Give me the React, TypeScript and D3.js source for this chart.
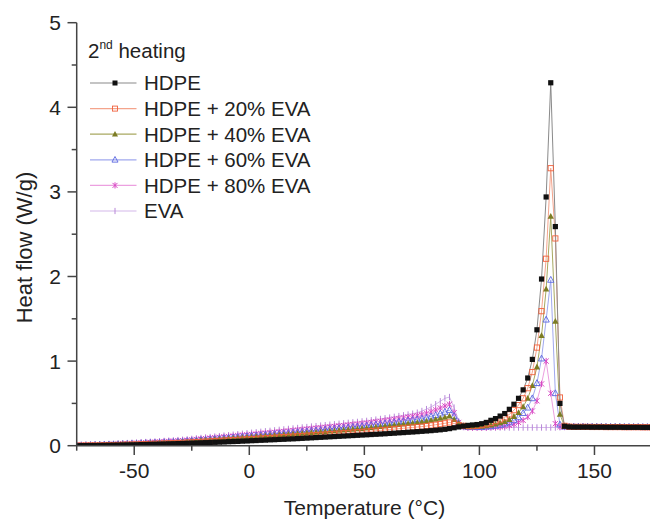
import React from "react";
import * as d3 from "d3";

// Temperature grid (°C) shared by every DSC trace
const TEMPS = [
  -75, -73, -71, -69, -67, -65, -63, -61, -59, -57,
  -55, -53, -51, -49, -47, -45, -43, -41, -39, -37,
  -35, -33, -31, -29, -27, -25, -23, -21, -19, -17,
  -15, -13, -11, -9, -7, -5, -3, -1, 1, 3,
  5, 7, 9, 11, 13, 15, 17, 19, 21, 23,
  25, 27, 29, 31, 33, 35, 37, 39, 41, 43,
  45, 47, 49, 51, 53, 55, 57, 59, 61, 63,
  65, 67, 69, 71, 73, 75, 77, 79, 81, 83,
  85, 87, 89, 91, 93, 95, 97, 99, 101, 103,
  105, 107, 109, 111, 113, 115, 117, 119, 121, 123,
  125, 127, 129, 131, 133, 135, 137, 139, 141, 143,
  145, 147, 149, 151, 153, 155, 157, 159, 161, 163,
  165, 167, 169, 171, 173, 175,
];

// Heat flow (W/g), 2nd heating
const HDPE = [
  0.000, 0.001, 0.001, 0.002, 0.002, 0.003, 0.004, 0.005, 0.006, 0.007,
  0.008, 0.009, 0.010, 0.011, 0.013, 0.014, 0.016, 0.017, 0.019, 0.020,
  0.022, 0.023, 0.025, 0.026, 0.028, 0.030, 0.032, 0.034, 0.036, 0.038,
  0.040, 0.042, 0.044, 0.047, 0.049, 0.051, 0.054, 0.056, 0.059, 0.061,
  0.064, 0.066, 0.069, 0.071, 0.074, 0.076, 0.079, 0.081, 0.084, 0.087,
  0.090, 0.093, 0.096, 0.099, 0.102, 0.105, 0.108, 0.111, 0.114, 0.117,
  0.120, 0.123, 0.126, 0.129, 0.132, 0.135, 0.138, 0.141, 0.145, 0.148,
  0.152, 0.155, 0.159, 0.162, 0.166, 0.170, 0.174, 0.178, 0.183, 0.188,
  0.194, 0.202, 0.212, 0.222, 0.232, 0.240, 0.245, 0.250, 0.260, 0.275,
  0.300, 0.320, 0.350, 0.380, 0.430, 0.490, 0.560, 0.660, 0.800, 1.020,
  1.370, 1.970, 2.940, 4.290, 2.590, 0.500, 0.230, 0.222, 0.220, 0.220,
  0.220, 0.220, 0.219, 0.219, 0.219, 0.218, 0.218, 0.218, 0.218, 0.217,
  0.217, 0.217, 0.217, 0.216, 0.216, 0.216,
];

const EVA20 = [
  0.000, 0.001, 0.002, 0.003, 0.003, 0.004, 0.005, 0.007, 0.008, 0.009,
  0.011, 0.012, 0.014, 0.015, 0.017, 0.019, 0.021, 0.023, 0.025, 0.026,
  0.028, 0.030, 0.032, 0.034, 0.037, 0.039, 0.042, 0.045, 0.048, 0.051,
  0.054, 0.057, 0.060, 0.063, 0.066, 0.069, 0.072, 0.075, 0.078, 0.081,
  0.085, 0.088, 0.091, 0.094, 0.098, 0.101, 0.104, 0.108, 0.111, 0.115,
  0.118, 0.122, 0.125, 0.129, 0.132, 0.136, 0.140, 0.143, 0.147, 0.151,
  0.155, 0.159, 0.163, 0.167, 0.172, 0.177, 0.181, 0.186, 0.191, 0.196,
  0.201, 0.206, 0.211, 0.216, 0.221, 0.226, 0.232, 0.240, 0.248, 0.256,
  0.265, 0.275, 0.262, 0.245, 0.235, 0.230, 0.230, 0.235, 0.245, 0.255,
  0.270, 0.290, 0.310, 0.335, 0.370, 0.420, 0.480, 0.560, 0.680, 0.870,
  1.160, 1.590, 2.210, 3.280, 2.450, 0.570, 0.235, 0.225, 0.222, 0.222,
  0.222, 0.222, 0.221, 0.221, 0.221, 0.220, 0.220, 0.220, 0.220, 0.219,
  0.219, 0.219, 0.219, 0.218, 0.218, 0.218,
];

const EVA40 = [
  0.000, 0.001, 0.002, 0.003, 0.005, 0.006, 0.007, 0.009, 0.010, 0.012,
  0.014, 0.016, 0.018, 0.020, 0.022, 0.024, 0.026, 0.028, 0.030, 0.032,
  0.034, 0.037, 0.040, 0.043, 0.046, 0.050, 0.054, 0.058, 0.062, 0.066,
  0.070, 0.074, 0.078, 0.082, 0.086, 0.090, 0.094, 0.098, 0.102, 0.106,
  0.110, 0.114, 0.118, 0.122, 0.126, 0.130, 0.134, 0.138, 0.142, 0.146,
  0.150, 0.154, 0.158, 0.163, 0.167, 0.172, 0.176, 0.180, 0.185, 0.189,
  0.194, 0.198, 0.203, 0.208, 0.213, 0.219, 0.225, 0.231, 0.237, 0.243,
  0.249, 0.255, 0.261, 0.267, 0.273, 0.280, 0.289, 0.300, 0.311, 0.322,
  0.335, 0.350, 0.310, 0.262, 0.235, 0.225, 0.225, 0.225, 0.230, 0.235,
  0.245, 0.255, 0.270, 0.285, 0.310, 0.345, 0.390, 0.460, 0.560, 0.710,
  0.930, 1.300, 1.850, 2.710, 1.470, 0.370, 0.230, 0.225, 0.223, 0.223,
  0.223, 0.223, 0.222, 0.222, 0.222, 0.221, 0.221, 0.221, 0.221, 0.220,
  0.220, 0.220, 0.220, 0.219, 0.219, 0.219,
];

const EVA60 = [
  0.004, 0.005, 0.006, 0.007, 0.009, 0.010, 0.012, 0.013, 0.015, 0.017,
  0.019, 0.021, 0.023, 0.025, 0.028, 0.030, 0.032, 0.035, 0.037, 0.040,
  0.042, 0.045, 0.048, 0.051, 0.055, 0.059, 0.063, 0.068, 0.072, 0.076,
  0.081, 0.085, 0.090, 0.094, 0.098, 0.103, 0.107, 0.112, 0.117, 0.121,
  0.125, 0.130, 0.134, 0.138, 0.143, 0.147, 0.152, 0.156, 0.161, 0.165,
  0.170, 0.175, 0.180, 0.185, 0.190, 0.196, 0.201, 0.206, 0.211, 0.217,
  0.222, 0.227, 0.232, 0.238, 0.244, 0.250, 0.256, 0.263, 0.269, 0.276,
  0.283, 0.290, 0.297, 0.304, 0.311, 0.320, 0.332, 0.346, 0.362, 0.380,
  0.400, 0.420, 0.350, 0.270, 0.230, 0.220, 0.220, 0.220, 0.220, 0.225,
  0.230, 0.235, 0.245, 0.260, 0.275, 0.300, 0.335, 0.385, 0.450, 0.560,
  0.740, 1.030, 1.490, 1.960, 0.620, 0.250, 0.225, 0.224, 0.224, 0.224,
  0.224, 0.224, 0.223, 0.223, 0.223, 0.222, 0.222, 0.222, 0.222, 0.221,
  0.221, 0.221, 0.221, 0.220, 0.220, 0.220,
];

const EVA80 = [
  0.005, 0.006, 0.007, 0.009, 0.010, 0.012, 0.014, 0.016, 0.018, 0.020,
  0.022, 0.024, 0.027, 0.030, 0.033, 0.036, 0.039, 0.042, 0.045, 0.048,
  0.051, 0.054, 0.057, 0.060, 0.064, 0.069, 0.074, 0.079, 0.084, 0.089,
  0.094, 0.099, 0.104, 0.109, 0.114, 0.119, 0.124, 0.128, 0.133, 0.138,
  0.143, 0.148, 0.153, 0.158, 0.163, 0.168, 0.174, 0.179, 0.184, 0.190,
  0.195, 0.200, 0.206, 0.211, 0.217, 0.222, 0.227, 0.233, 0.238, 0.244,
  0.250, 0.256, 0.262, 0.268, 0.275, 0.282, 0.289, 0.297, 0.305, 0.313,
  0.321, 0.329, 0.338, 0.347, 0.356, 0.368, 0.384, 0.402, 0.423, 0.446,
  0.470, 0.490, 0.390, 0.275, 0.225, 0.215, 0.215, 0.215, 0.215, 0.215,
  0.220, 0.220, 0.225, 0.230, 0.240, 0.255, 0.275, 0.300, 0.340, 0.410,
  0.530, 0.730, 1.000, 0.620, 0.260, 0.225, 0.222, 0.224, 0.225, 0.225,
  0.225, 0.225, 0.224, 0.224, 0.224, 0.223, 0.223, 0.223, 0.223, 0.222,
  0.222, 0.222, 0.222, 0.221, 0.221, 0.221,
];

const EVA = [
  0.008, 0.009, 0.010, 0.012, 0.014, 0.016, 0.018, 0.021, 0.023, 0.025,
  0.028, 0.031, 0.034, 0.037, 0.040, 0.043, 0.046, 0.049, 0.052, 0.056,
  0.059, 0.062, 0.066, 0.070, 0.075, 0.080, 0.086, 0.091, 0.097, 0.102,
  0.108, 0.113, 0.119, 0.124, 0.130, 0.136, 0.141, 0.147, 0.153, 0.158,
  0.164, 0.170, 0.175, 0.181, 0.187, 0.192, 0.198, 0.203, 0.209, 0.215,
  0.220, 0.226, 0.231, 0.237, 0.242, 0.248, 0.253, 0.259, 0.264, 0.270,
  0.276, 0.281, 0.287, 0.293, 0.300, 0.308, 0.316, 0.324, 0.332, 0.341,
  0.350, 0.359, 0.368, 0.378, 0.390, 0.410, 0.432, 0.458, 0.490, 0.525,
  0.560, 0.575, 0.450, 0.290, 0.220, 0.215, 0.215, 0.215, 0.215, 0.215,
  0.215, 0.215, 0.215, 0.215, 0.215, 0.215, 0.215, 0.215, 0.215, 0.215,
  0.215, 0.215, 0.215, 0.215, 0.215, 0.218, 0.222, 0.224, 0.225, 0.225,
  0.225, 0.225, 0.224, 0.224, 0.224, 0.223, 0.223, 0.223, 0.223, 0.222,
  0.222, 0.222, 0.222, 0.221, 0.221, 0.221,
];

const SERIES_NAMES = [
  "HDPE",
  "HDPE + 20% EVA",
  "HDPE + 40% EVA",
  "HDPE + 60% EVA",
  "HDPE + 80% EVA",
  "EVA",
];
const SERIES_VALUES = [HDPE, EVA20, EVA40, EVA60, EVA80, EVA];

const X_TICKS = [-50, 0, 50, 100, 150];
const X_MINOR = [-75, -25, 25, 75, 125];
const Y_TICKS = [0, 1, 2, 3, 4, 5];
const Y_MINOR = [0.5, 1.5, 2.5, 3.5, 4.5];

type MarkerKind = "square" | "openSquare" | "triangle" | "openTriangle" | "star" | "bar";

const STYLES: { marker: MarkerKind; color: string; line: string }[] = [
  { marker: "square", color: "#111111", line: "#8a8a8a" },
  { marker: "openSquare", color: "#f0603c", line: "#f4a48c" },
  { marker: "triangle", color: "#7c7c24", line: "#a8a860" },
  { marker: "openTriangle", color: "#5a66e0", line: "#a0a8ee" },
  { marker: "star", color: "#d848c4", line: "#eca0e0" },
  { marker: "bar", color: "#b888d8", line: "#d4b8ea" },
];

const W = 650;
const H = 521;
const FONT = "'Liberation Sans', Arial, Helvetica, sans-serif";
const TEXT = "#222";
const AXIS = "#444";

const x = d3.scaleLinear().domain([-75, 175]).range([76.7, 652]);
const y = d3.scaleLinear().domain([0, 5]).range([445.7, 22.7]);

function Marker({ kind, cx, cy, color, s = 5.2 }: { kind: MarkerKind; cx: number; cy: number; color: string; s?: number }) {
  const h = s / 2;
  switch (kind) {
    case "square":
      return <rect x={cx - h} y={cy - h} width={s} height={s} fill={color} />;
    case "openSquare":
      return <rect x={cx - h} y={cy - h} width={s} height={s} fill="none" stroke={color} strokeWidth={0.9} />;
    case "triangle": {
      const t = s * 1.1;
      const pts = `${cx},${cy - t * 0.6} ${cx + t * 0.55},${cy + t * 0.42} ${cx - t * 0.55},${cy + t * 0.42}`;
      return <polygon points={pts} fill={color} />;
    }
    case "openTriangle": {
      const t = s * 1.1;
      const pts = `${cx},${cy - t * 0.6} ${cx + t * 0.55},${cy + t * 0.42} ${cx - t * 0.55},${cy + t * 0.42}`;
      return <polygon points={pts} fill="none" stroke={color} strokeWidth={0.9} />;
    }
    case "star":
      return (
        <g stroke={color} strokeWidth={1}>
          <line x1={cx - h} y1={cy - h} x2={cx + h} y2={cy + h} />
          <line x1={cx - h} y1={cy + h} x2={cx + h} y2={cy - h} />
          <line x1={cx} y1={cy - h - 0.6} x2={cx} y2={cy + h + 0.6} />
        </g>
      );
    case "bar":
      return <line x1={cx} y1={cy - h - 0.6} x2={cx} y2={cy + h + 0.6} stroke={color} strokeWidth={1} />;
  }
}

export default function App() {
  const line = d3
    .line<number>()
    .x((_, i) => x(TEMPS[i]))
    .y((v) => y(v));

  const order = [5, 4, 3, 2, 1, 0];
  const legendY0 = 83;
  const legendStep = 25.6;

  return (
    <div style={{ position: "absolute", left: 0, top: 0 }}>
      <svg width={W} height={H} viewBox={`0 0 ${W} ${H}`} style={{ display: "block", background: "#fff" }}>
        <defs>
          <clipPath id="plot-area">
            <rect x={76.7} y={0} width={W - 76.7} height={446} />
          </clipPath>
        </defs>

        {/* traces */}
        <g clipPath="url(#plot-area)">
          {order.map((k) => (
            <path key={`l${k}`} d={line(SERIES_VALUES[k]) || ""} fill="none" stroke={STYLES[k].line} strokeWidth={1} />
          ))}
          {order.map((k) => (
            <g key={`m${k}`}>
              {SERIES_VALUES[k].map((v, i) => (
                <Marker key={i} kind={STYLES[k].marker} cx={x(TEMPS[i])} cy={y(v)} color={STYLES[k].color} />
              ))}
            </g>
          ))}
        </g>

        {/* axes */}
        <g stroke={AXIS} strokeWidth={1.5}>
          <line x1={76.7} y1={445.7} x2={W} y2={445.7} />
          <line x1={76.7} y1={445.7} x2={76.7} y2={22.7} />
          {X_TICKS.map((t) => (
            <line key={`xt${t}`} x1={x(t)} x2={x(t)} y1={445.7} y2={455} />
          ))}
          {X_MINOR.map((t) => (
            <line key={`xm${t}`} x1={x(t)} x2={x(t)} y1={445.7} y2={450.7} />
          ))}
          {Y_TICKS.map((t) => (
            <line key={`yt${t}`} x1={67.5} x2={76.7} y1={y(t)} y2={y(t)} />
          ))}
          {Y_MINOR.map((t) => (
            <line key={`ym${t}`} x1={71.7} x2={76.7} y1={y(t)} y2={y(t)} />
          ))}
        </g>

        <g fontFamily={FONT} fill={TEXT} fontSize={21}>
          {X_TICKS.map((t) => (
            <text key={`xl${t}`} x={x(t)} y={478} textAnchor="middle">
              {t}
            </text>
          ))}
          {Y_TICKS.map((t) => (
            <text key={`yl${t}`} x={61} y={y(t)} dy="0.36em" textAnchor="end">
              {t}
            </text>
          ))}
          <text x={364.5} y={515} textAnchor="middle" fontSize={21}>
            Temperature (°C)
          </text>
          <text transform="translate(31.5,247.5) rotate(-90)" textAnchor="middle" fontSize={22}>
            Heat flow (W/g)
          </text>
        </g>

        {/* legend */}
        <g fontFamily={FONT} fill={TEXT} fontSize={20.5}>
          <text x={88} y={58}>
            2<tspan fontSize={12} dy={-9}>nd</tspan>
            <tspan dy={9}> heating</tspan>
          </text>
          {SERIES_NAMES.map((name, k) => {
            const ly = legendY0 + k * legendStep;
            return (
              <g key={name}>
                <line x1={90} x2={136.5} y1={ly} y2={ly} stroke={STYLES[k].line} strokeWidth={1.2} />
                <Marker kind={STYLES[k].marker} cx={115} cy={ly} color={STYLES[k].color} s={5} />
                <text x={144} y={ly} dy="0.36em">
                  {name}
                </text>
              </g>
            );
          })}
        </g>
      </svg>
    </div>
  );
}
